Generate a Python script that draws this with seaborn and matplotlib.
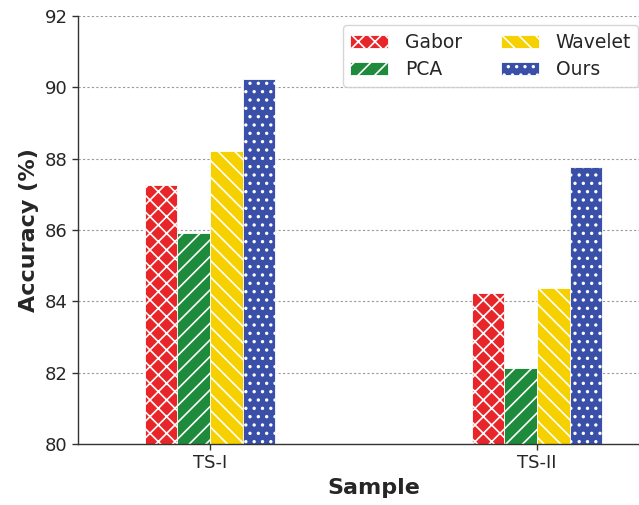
import matplotlib
matplotlib.use("Agg")
import matplotlib.pyplot as plt
import seaborn as sns
import pandas as pd

samples = ["TS-I", "TS-II"]
methods = ["Gabor", "PCA", "Wavelet", "Ours"]
gabor = [87.26, 84.23]
pca = [85.92, 82.13]
wavelet = [88.22, 84.37]
ours = [90.23, 87.77]
yticks = [80, 82, 84, 86, 88, 90, 92]

colors = ["#e8262a", "#1e8a3c", "#f7d000", "#3a4fa8"]
hatches = ["xx", "//", "\\\\", ".."]

rows = []
for m, vals in zip(methods, [gabor, pca, wavelet, ours]):
    for s, v in zip(samples, vals):
        rows.append({"Sample": s, "Method": m, "Accuracy": v})
df = pd.DataFrame(rows)

sns.set_style("white")
plt.rcParams["font.family"] = ["DejaVu Sans"]
plt.rcParams["hatch.linewidth"] = 1.2
plt.rcParams["hatch.color"] = "white"

fig = plt.figure(figsize=(6.39, 5.05), dpi=100)
ax = fig.add_axes([0.122, 0.121, 0.925, 0.847])

sns.barplot(data=df, x="Sample", y="Accuracy", hue="Method", hue_order=methods,
            palette=colors, width=0.4, ax=ax, legend=False, saturation=1,
            edgecolor="white", linewidth=0.6)

for cont, h, m in zip(ax.containers, hatches, methods):
    cont.set_label(m)
    for p in cont.patches:
        p.set_hatch(h)
        p.set_edgecolor("white")

ax.set_ylim(80, 92)
ax.set_xlim(-0.404, 1.404)
ax.set_yticks(yticks)
ax.yaxis.grid(True, linestyle=(0, (2, 2)), color="#999999", linewidth=0.8)
ax.set_axisbelow(True)
for s in ["top", "right"]:
    ax.spines[s].set_visible(False)
for s in ["left", "bottom"]:
    ax.spines[s].set_color("#333333")
    ax.spines[s].set_linewidth(1.0)
ax.tick_params(axis="both", labelsize=13, length=4, width=1, color="#333333", left=True, bottom=True)
ax.set_xlabel("Sample", fontsize=16, fontweight="bold")
ax.set_ylabel("Accuracy (%)", fontsize=16, fontweight="bold")

leg = ax.legend(handles=ax.containers, labels=methods, ncol=2, fontsize=13.5,
                loc="upper left", bbox_to_anchor=(0.448, 0.979), frameon=True,
                handlelength=2.0, handletextpad=0.9, columnspacing=2.1,
                labelspacing=0.45, borderpad=0.4, borderaxespad=0)
leg.get_frame().set_edgecolor("#cccccc")

fig.savefig("out.png", dpi=100)
